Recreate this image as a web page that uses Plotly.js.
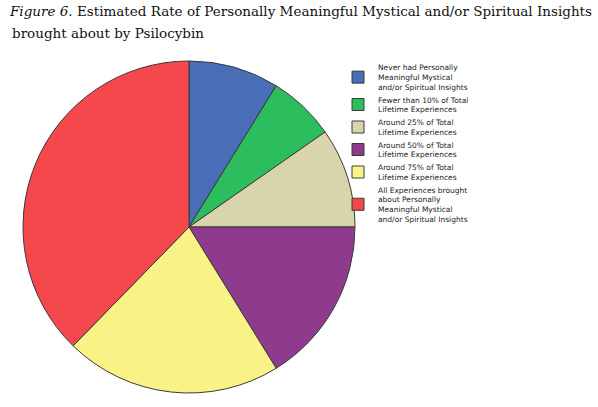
<!DOCTYPE html>
<html>
<head>
<meta charset="utf-8">
<script src="https://cdn.plot.ly/plotly-3.0.1.min.js"></script>
<style>
  html, body { margin: 0; padding: 0; background: #fff; }
  #chart { width: 598px; height: 407px; }
</style>
</head>
<body>
<div id="chart"></div>
<script>
// answer categories, in the order SPSS drew them (clockwise from 12 o'clock)
var categories = [
  'Never had Personally<br>Meaningful Mystical<br>and/or Spiritual Insights',
  'Fewer than 10% of Total<br>Lifetime Experiences',
  'Around 25% of Total<br>Lifetime Experiences',
  'Around 50% of Total<br>Lifetime Experiences',
  'Around 75% of Total<br>Lifetime Experiences',
  'All Experiences brought<br>about Personally<br>Meaningful Mystical<br>and/or Spiritual Insights'
];
// share of respondents, percent
var shares = [8.8, 6.5, 9.7, 16.2, 21.1, 37.7];
var sliceColors = ['#4A6DB8', '#2CBE5E', '#D8D4AB', '#8E3A8D', '#F9F387', '#F5484D'];

var trace = {
  type: 'pie',
  labels: categories,
  values: shares,
  sort: false,
  direction: 'clockwise',
  rotation: 0,
  textinfo: 'none',
  hoverinfo: 'label+percent',
  marker: { colors: sliceColors, line: { color: '#3a3a3a', width: 1 } },
  domain: { x: [23 / 598, 355 / 598], y: [14 / 407, 346 / 407] }
};

var layout = {
  width: 598,
  height: 407,
  margin: { l: 0, r: 0, t: 0, b: 0 },
  paper_bgcolor: '#fff',
  showlegend: true,
  title: {
    text: '<i>Figure 6.</i> Estimated Rate of Personally Meaningful Mystical and/or Spiritual Insights',
    font: { family: 'DejaVu Serif', size: 13.5, color: '#111' },
    x: 10 / 598, xanchor: 'left',
    y: 1 - 7 / 407, yanchor: 'top', yref: 'container'
  },
  annotations: [{
    text: 'brought about by Psilocybin',
    font: { family: 'DejaVu Serif', size: 13.5, color: '#111' },
    xref: 'paper', yref: 'paper',
    x: 10 / 598, xanchor: 'left',
    y: 1 - 23 / 407, yanchor: 'top',
    showarrow: false
  }],
  legend: {
    x: 338 / 598, xanchor: 'left',
    y: 1 - 56 / 407, yanchor: 'top',
    font: { family: 'DejaVu Sans', size: 7.5, color: '#222' },
    bgcolor: 'rgba(0,0,0,0)',
    tracegroupgap: 0
  }
};

Plotly.newPlot('chart', [trace], layout, { displayModeBar: false, staticPlot: true });
</script>
</body>
</html>
